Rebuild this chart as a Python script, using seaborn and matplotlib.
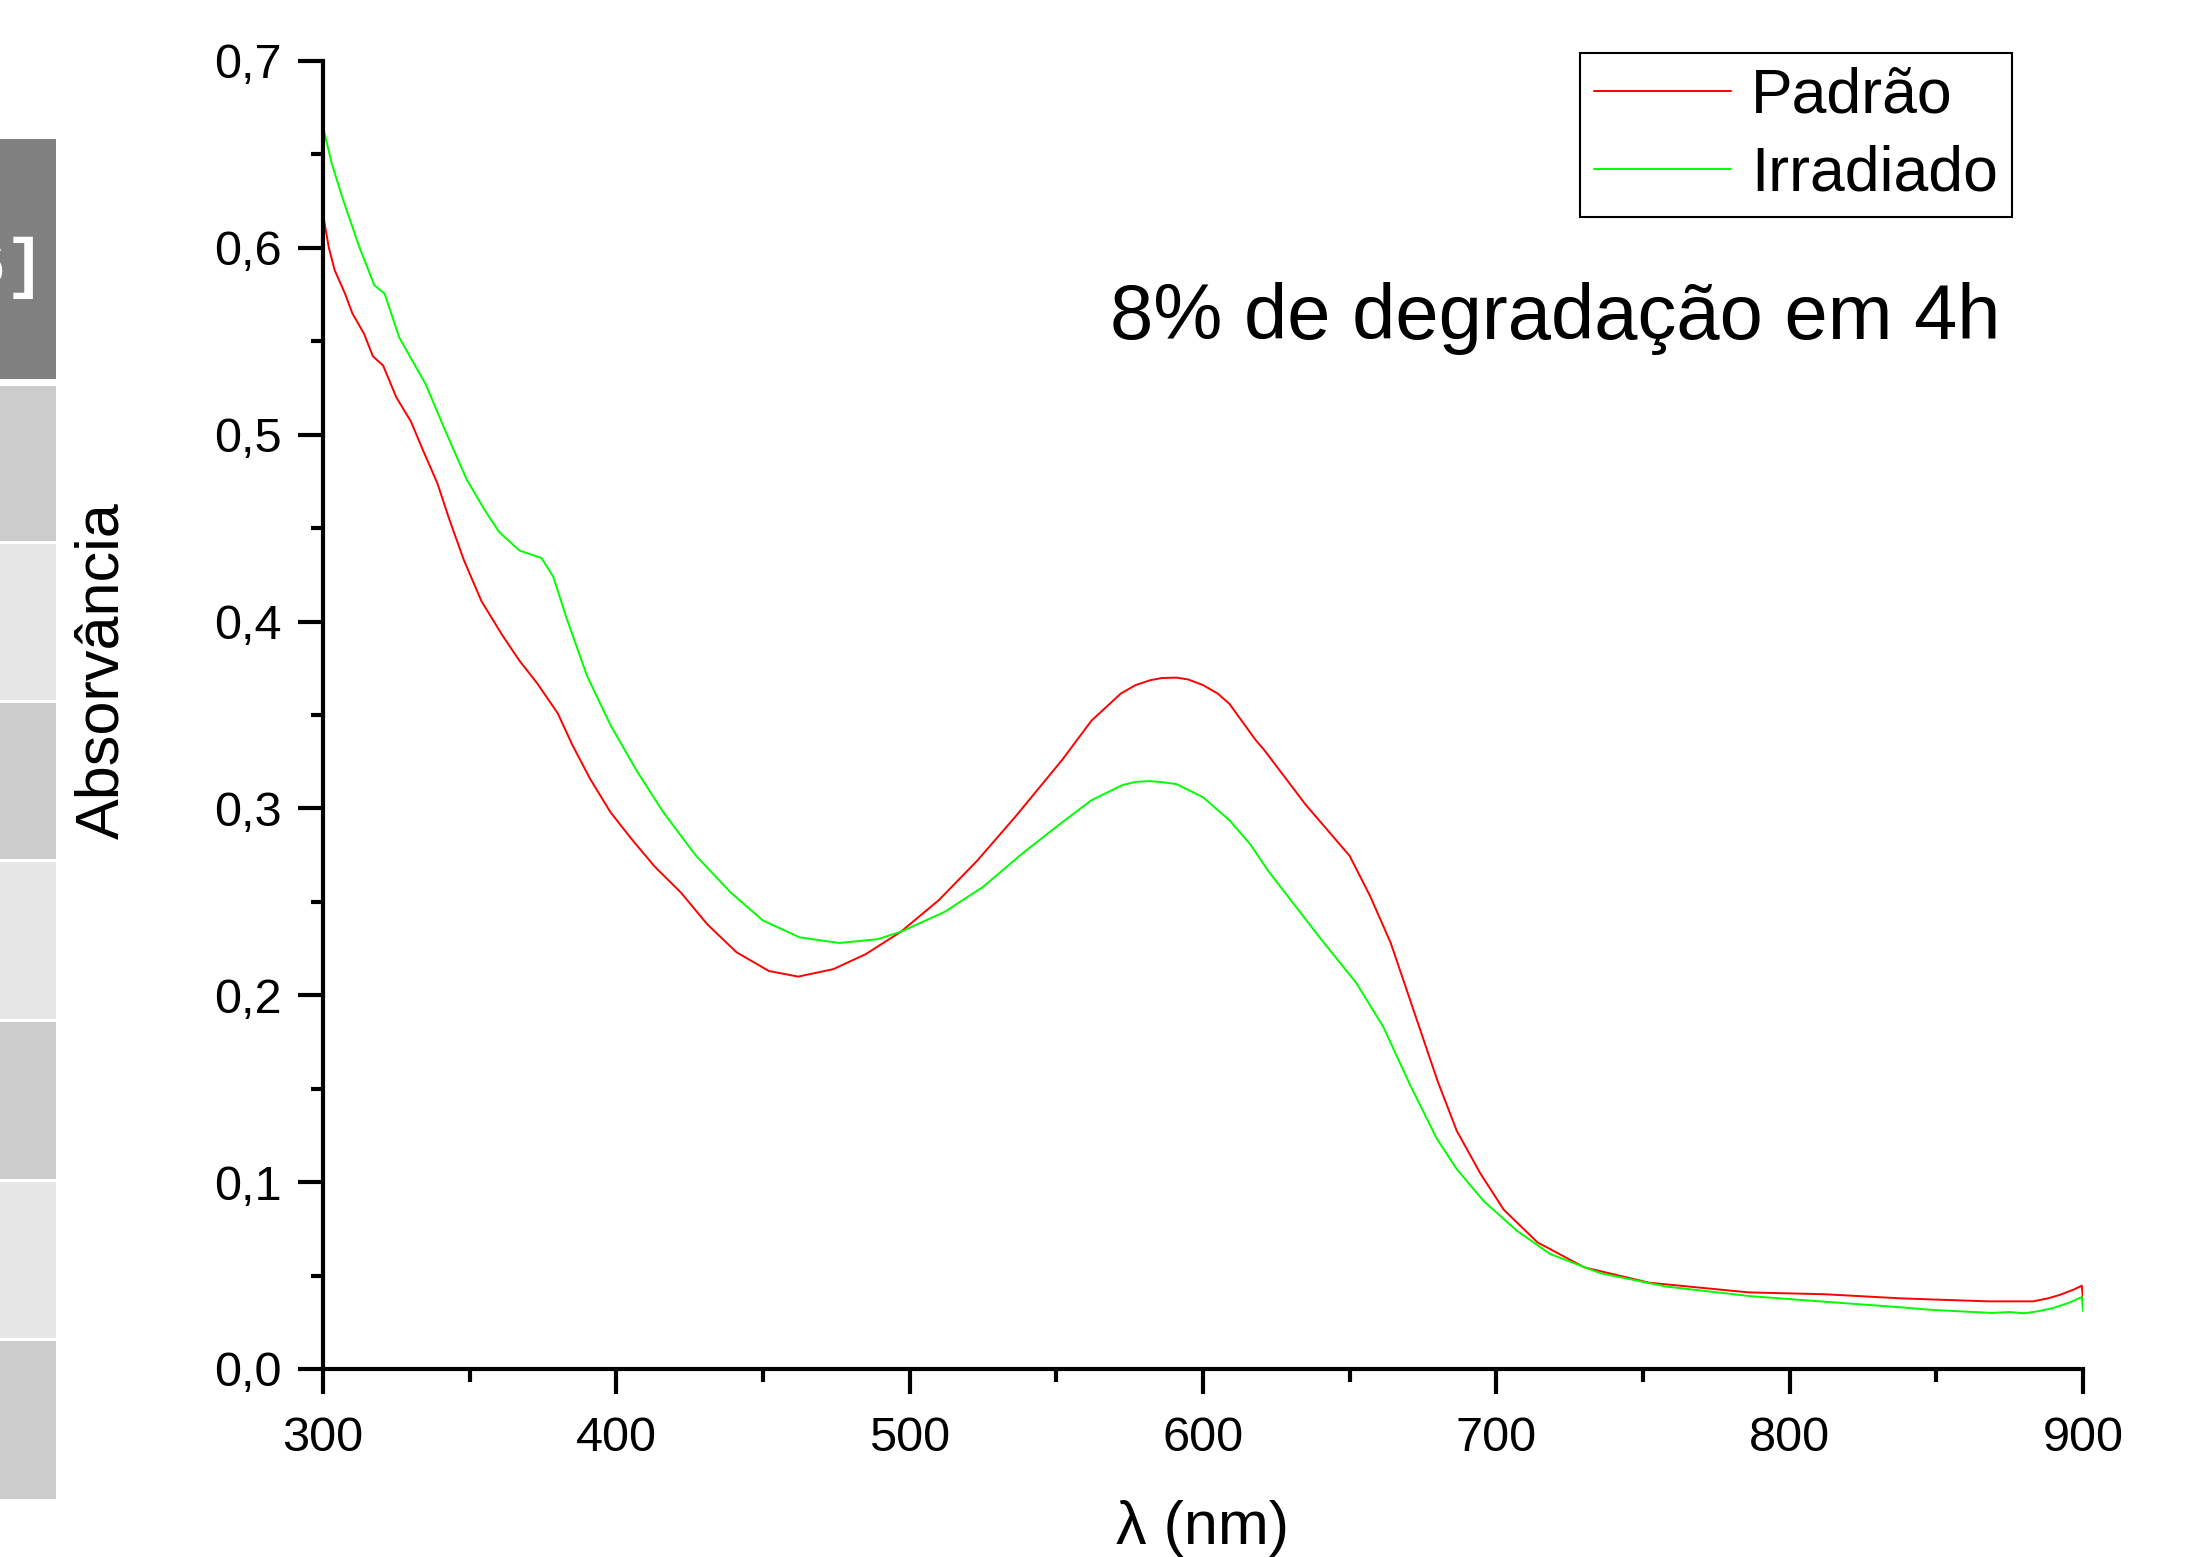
import pandas as pd
import matplotlib
matplotlib.use("Agg")
import matplotlib.pyplot as plt
from matplotlib.patches import Rectangle
from matplotlib.ticker import MultipleLocator, FuncFormatter
import seaborn as sns

# Spectra (wavelength in nm, absorbance)
wl_padrao = [300, 302, 304, 307.5, 310, 314, 317, 320.5, 325, 330, 334, 339, 343, 348, 354,
             361, 367, 373, 380, 385, 391, 398, 405, 413, 422, 431, 441, 452, 462, 474, 485,
             497, 510, 523, 536, 552, 562, 572, 577, 582, 586, 591, 595, 600, 605, 609, 618,
             621, 635, 650, 657, 664, 672, 680, 686.5, 694.5, 702.5, 714, 730, 752, 786, 812,
             838, 847, 868, 883, 888, 892, 897, 899.6, 900]
abs_padrao = [0.618, 0.600, 0.588, 0.5755, 0.565, 0.554, 0.542, 0.537, 0.520, 0.507, 0.492,
              0.474, 0.455, 0.433, 0.411, 0.393, 0.379, 0.367, 0.351, 0.334, 0.316, 0.298,
              0.284, 0.269, 0.255, 0.238, 0.223, 0.213, 0.210, 0.214, 0.222, 0.234, 0.251,
              0.272, 0.2955, 0.326, 0.347, 0.3615, 0.3660, 0.3686, 0.3698, 0.370, 0.3690,
              0.366, 0.3615, 0.356, 0.3365, 0.331, 0.302, 0.2746, 0.253, 0.228, 0.191, 0.154,
              0.1275, 0.1048, 0.0853, 0.0678, 0.0544, 0.0462, 0.041, 0.040, 0.0378, 0.0373,
              0.0362, 0.0362, 0.0378, 0.0396, 0.0426, 0.0446, 0.037]

wl_irrad = [300, 303, 307, 312.5, 317.5, 321, 326, 335, 342, 349, 355, 360, 367, 374.5, 378.5,
            383, 390, 398, 407, 416, 427, 439, 450, 462.5, 476, 489, 497, 512, 525, 538.5,
            551.5, 562, 572.5, 577, 581.5, 586, 591, 600, 609, 616, 622.5, 640, 652.3, 661.5,
            670.6, 679.7, 686.5, 695.6, 707, 718.3, 735.4, 758, 786.5, 812, 838, 847, 857.5,
            869, 875, 880, 885, 889.5, 895, 899.6, 900]
abs_irrad = [0.665, 0.645, 0.625, 0.600, 0.580, 0.5755, 0.552, 0.527, 0.501, 0.476, 0.460,
             0.448, 0.438, 0.434, 0.424, 0.402, 0.371, 0.3446, 0.320, 0.298, 0.275, 0.255,
             0.240, 0.231, 0.228, 0.230, 0.234, 0.2447, 0.258, 0.276, 0.292, 0.3044, 0.3125,
             0.3142, 0.3146, 0.3141, 0.313, 0.306, 0.2937, 0.281, 0.266, 0.2305, 0.2065, 0.183,
             0.152, 0.1233, 0.107, 0.090, 0.074, 0.0616, 0.0513, 0.0441, 0.039, 0.036, 0.033,
             0.0318, 0.0309, 0.0300, 0.0305, 0.0298, 0.031, 0.0325, 0.0353, 0.0385, 0.031]

series_names = ["Padrão", "Irradiado"]
colors = {"Padrão": "#ff0000", "Irradiado": "#00ff00"}

df = pd.concat([
    pd.DataFrame({"wl": wl_padrao, "abs": abs_padrao, "amostra": series_names[0]}),
    pd.DataFrame({"wl": wl_irrad, "abs": abs_irrad, "amostra": series_names[1]}),
], ignore_index=True)

sns.set_style("ticks")
plt.rcParams["font.family"] = ["Liberation Sans", "DejaVu Sans"]
plt.rcParams.update({"text.color": "black", "axes.labelcolor": "black",
                     "xtick.color": "black", "ytick.color": "black",
                     "axes.edgecolor": "black"})

W, H = 2186, 1557
fig = plt.figure(figsize=(W / 100, H / 100), dpi=100)
ax = fig.add_axes([323 / W, 1 - 1369 / H, (2083 - 323) / W, (1369 - 61) / H])

sns.lineplot(data=df, x="wl", y="abs", hue="amostra", palette=colors, sort=False,
             estimator=None, linewidth=1.4, ax=ax)

ax.set_xlim(300, 900)
ax.set_ylim(0, 0.7)
ax.xaxis.set_major_locator(MultipleLocator(100))
ax.xaxis.set_minor_locator(MultipleLocator(50))
ax.yaxis.set_major_locator(MultipleLocator(0.1))
ax.yaxis.set_minor_locator(MultipleLocator(0.05))
ax.yaxis.set_major_formatter(FuncFormatter(lambda v, p: f"{v:.1f}".replace(".", ",")))

sns.despine(ax=ax)
for s in ["left", "bottom"]:
    ax.spines[s].set_linewidth(3)
ax.tick_params(which="major", length=18, width=3, labelsize=35, pad=12, direction="out")
ax.tick_params(axis="x", which="major", pad=16)
ax.tick_params(which="minor", length=9, width=3, direction="out")

ax.set_xlabel("λ (nm)", fontsize=44)
ax.set_ylabel("Absorvância", fontsize=44)
ax.xaxis.set_label_coords(0.5, -0.122)
ax.yaxis.set_label_coords(-0.125, 0.534)
ax.xaxis.label.set_va("center")
ax.yaxis.label.set_va("center")

ax.text(568.3, 0.551, "8% de degradação em 4h", fontsize=56, ha="left", va="baseline")

leg = ax.legend(loc="upper right", bbox_to_anchor=(2012 / W, 1 - 53 / H),
                bbox_transform=fig.transFigure, borderaxespad=0, fontsize=45,
                handlelength=2.2, handletextpad=0.32, borderpad=0.22, labelspacing=0.3,
                fancybox=False, framealpha=1, edgecolor="black", title=None)
leg.get_frame().set_linewidth(1.5)
for ln in leg.get_lines():
    ln.set_linewidth(1.4)

# slide decoration on the left edge
boxes_y = [(139, 379), (386, 541), (544, 700), (703, 859), (862, 1019), (1022, 1179),
           (1182, 1338), (1341, 1499)]
box_colors = ["#808080", "#cccccc", "#e6e6e6", "#cccccc", "#e6e6e6", "#cccccc", "#e6e6e6",
              "#cccccc"]
for (y0, y1), c in zip(boxes_y, box_colors):
    fig.add_artist(Rectangle((0, 1 - y1 / H), 56 / W, (y1 - y0) / H,
                             transform=fig.transFigure, facecolor=c, edgecolor="none"))
fig.text(46 / W, 1 - 268 / H, "6]", color="white", fontsize=48, fontweight="bold",
         family="Liberation Mono", ha="right", va="center")

fig.savefig("out.png", dpi=100)
